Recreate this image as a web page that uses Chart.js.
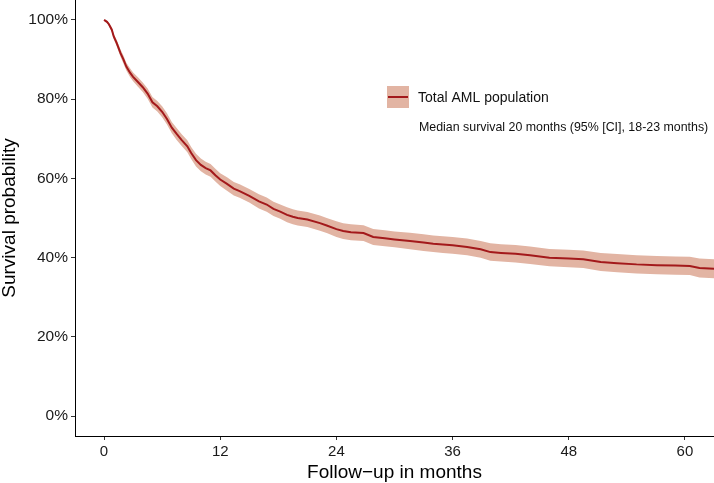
<!DOCTYPE html>
<html>
<head>
<meta charset="utf-8">
<script src="https://cdn.jsdelivr.net/npm/chart.js@4.4.1/dist/chart.umd.min.js"></script>
<style>
  html, body { margin: 0; padding: 0; background: #fff; }
  #wrap { width: 714px; height: 483px; }
</style>
</head>
<body>
<div id="wrap"><canvas id="km-chart" width="714" height="483"></canvas></div>
<script>
// Kaplan-Meier estimate (months, % surviving)
var months = [0, 0.3, 0.5, 0.8, 1, 1.3, 1.7, 2, 2.3, 2.7,
              3, 3.5, 4, 4.5, 5, 5.5, 6, 6.5, 7, 7.5,
              8, 8.6, 9, 9.5, 10, 10.5, 11, 11.5, 12, 12.7,
              13.4, 14, 15, 16, 16.8, 17.5, 18.2, 18.9, 19.5, 20,
              21, 22.3, 23, 24, 24.7, 25.5, 26.8, 27.8, 29, 30,
              31.6, 33, 34, 35, 36, 37.5, 38.9, 39.9, 41, 42.5,
              44, 46, 48, 49.5, 51.3, 53, 55, 57.1, 59, 60.5,
              61.5, 63];
var survival = [100, 99.5, 98.9, 97.5, 95.8, 94.2, 91.6, 90.0, 88.2, 86.6,
                85.6, 84.3, 83.0, 81.4, 79.2, 78.2, 76.8, 75.0, 72.8, 71.2,
                69.7, 68.1, 66.4, 64.6, 63.4, 62.6, 62.0, 60.8, 59.7, 58.6,
                57.4, 56.8, 55.6, 54.2, 53.4, 52.3, 51.6, 50.8, 50.3, 50.0,
                49.6, 48.7, 48.1, 47.2, 46.7, 46.4, 46.2, 45.2, 44.9, 44.6,
                44.2, 43.8, 43.5, 43.3, 43.1, 42.7, 42.1, 41.4, 41.2, 41.0,
                40.6, 40.0, 39.8, 39.6, 38.9, 38.6, 38.3, 38.1, 38.0, 37.9,
                37.4, 37.2];
var lowerCI = [100, 99.2, 98.5, 96.9, 95.1, 93.4, 90.7, 89.0, 87.2, 85.5,
               84.5, 83.1, 81.8, 80.1, 77.9, 76.9, 75.4, 73.6, 71.4, 69.7,
               68.2, 66.6, 64.9, 63.0, 61.8, 61.0, 60.4, 59.2, 58.1, 56.9,
               55.7, 55.1, 53.9, 52.4, 51.6, 50.5, 49.8, 48.9, 48.4, 48.1,
               47.7, 46.8, 46.2, 45.2, 44.7, 44.4, 44.2, 43.2, 42.9, 42.6,
               42.1, 41.7, 41.4, 41.2, 41.0, 40.6, 40.0, 39.2, 39.0, 38.8,
               38.4, 37.8, 37.6, 37.4, 36.6, 36.3, 36.0, 35.8, 35.7, 35.6,
               35.0, 34.8];
var upperCI = [100, 99.8, 99.3, 98.1, 96.5, 95.0, 92.5, 91.0, 89.2, 87.7,
               86.7, 85.5, 84.2, 82.7, 80.5, 79.5, 78.2, 76.4, 74.2, 72.7,
               71.2, 69.6, 67.9, 66.2, 65.0, 64.2, 63.6, 62.4, 61.3, 60.3,
               59.1, 58.5, 57.3, 56.0, 55.2, 54.1, 53.4, 52.7, 52.2, 51.9,
               51.5, 50.6, 50.0, 49.2, 48.7, 48.4, 48.2, 47.2, 46.9, 46.6,
               46.3, 45.9, 45.6, 45.4, 45.2, 44.8, 44.2, 43.6, 43.4, 43.2,
               42.8, 42.2, 42.0, 41.8, 41.2, 40.9, 40.6, 40.4, 40.3, 40.2,
               39.8, 39.6];

var xTicks = [0, 12, 24, 36, 48, 60];
var yTicks = [0, 20, 40, 60, 80, 100];

var legendLabel = 'Total AML population';
var medianNote = 'Median survival 20 months (95% [CI], 18-23 months)';

var lineColor = '#a3191b';
var bandColor = '#e2b4a3';
var FONT = '"Liberation Sans", Arial, Helvetica, sans-serif';

function toPoints(xs, ys) {
    var pts = [];
    for (let i = 0; i < xs.length; i++) {
        pts.push({ x: xs[i], y: ys[i] });
    }
    return pts;
}

// legend box + median note, drawn like the ggplot annotation
const kmLegend = {
    id: 'kmLegend',
    afterDraw(chart) {
        const ctx = chart.ctx;
        ctx.save();
        ctx.fillStyle = bandColor;
        ctx.fillRect(387, 86, 22, 22);
        ctx.strokeStyle = lineColor;
        ctx.lineWidth = 2;
        ctx.beginPath();
        ctx.moveTo(388, 97);
        ctx.lineTo(408, 97);
        ctx.stroke();

        ctx.fillStyle = '#111';
        ctx.textBaseline = 'middle';
        ctx.textAlign = 'left';
        ctx.font = '14px ' + FONT;
        ctx.fillText(legendLabel, 418, 98);
        ctx.font = '12.4px ' + FONT;
        ctx.fillText(medianNote, 419, 128);
        ctx.restore();
    }
};

const ctx = document.getElementById('km-chart');

new Chart(ctx, {
    type: 'line',
    data: {
        datasets: [
            {
                label: legendLabel,
                data: toPoints(months, survival),
                borderColor: lineColor,
                borderWidth: 2,
                pointRadius: 0,
                tension: 0,
                fill: false
            },
            {
                label: 'upper',
                data: toPoints(months, upperCI),
                borderWidth: 0,
                borderColor: 'rgba(0,0,0,0)',
                backgroundColor: bandColor,
                pointRadius: 0,
                tension: 0,
                fill: '+1'
            },
            {
                label: 'lower',
                data: toPoints(months, lowerCI),
                borderWidth: 0,
                borderColor: 'rgba(0,0,0,0)',
                pointRadius: 0,
                tension: 0,
                fill: false
            }
        ]
    },
    options: {
        responsive: false,
        animation: false,
        devicePixelRatio: 1,
        layout: { padding: 0 },
        scales: {
            x: {
                type: 'linear',
                min: -3,
                max: 63,
                afterBuildTicks: function(scale) {
                    scale.ticks = xTicks.map(v => ({ value: v }));
                },
                afterFit: function(scale) {
                    scale.height = 47;
                    scale.paddingLeft = 0;
                    scale.paddingRight = 0;
                },
                grid: {
                    drawOnChartArea: false,
                    tickLength: 4,
                    tickColor: '#333',
                    tickWidth: 1
                },
                border: { display: true, color: '#000', width: 1 },
                ticks: {
                    padding: 3,
                    color: '#1a1a1a',
                    maxRotation: 0,
                    font: { family: FONT, size: 15 }
                },
                title: {
                    display: true,
                    text: 'Follow\u2212up in months',
                    color: '#000',
                    font: { family: FONT, size: 19, lineHeight: 1 },
                    padding: { top: 0, bottom: 1 }
                }
            },
            y: {
                type: 'linear',
                min: -5,
                max: 105,
                afterBuildTicks: function(scale) {
                    scale.ticks = yTicks.map(v => ({ value: v }));
                },
                afterFit: function(scale) {
                    scale.width = 75;
                    scale.paddingTop = 0;
                    scale.paddingBottom = 0;
                },
                grid: {
                    drawOnChartArea: false,
                    tickLength: 4,
                    tickColor: '#333',
                    tickWidth: 1
                },
                border: { display: true, color: '#000', width: 1 },
                ticks: {
                    padding: 3,
                    color: '#1a1a1a',
                    font: { family: FONT, size: 15.5 },
                    callback: function(v) { return v + '%'; }
                },
                title: {
                    display: true,
                    text: 'Survival probability',
                    color: '#000',
                    font: { family: FONT, size: 19, lineHeight: 1 },
                    padding: { top: 0.5, bottom: 0 }
                }
            }
        },
        plugins: {
            legend: { display: false },
            tooltip: { enabled: false }
        }
    },
    plugins: [kmLegend]
});
</script>
</body>
</html>
